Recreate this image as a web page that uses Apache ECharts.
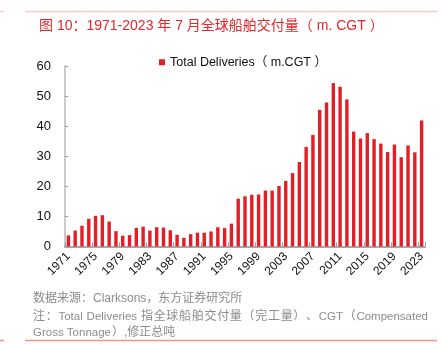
<!DOCTYPE html>
<html>
<head>
<meta charset="utf-8">
<script src="https://cdn.jsdelivr.net/npm/echarts@6/dist/echarts.min.js"></script>
<style>html,body{margin:0;padding:0;background:#fff;}#c{width:442px;height:344px;}</style>
</head>
<body>
<div id="c"></div>
<script>
const years = ['1971','1972','1973','1974','1975','1976','1977','1978','1979','1980',
  '1981','1982','1983','1984','1985','1986','1987','1988','1989','1990',
  '1991','1992','1993','1994','1995','1996','1997','1998','1999','2000',
  '2001','2002','2003','2004','2005','2006','2007','2008','2009','2010',
  '2011','2012','2013','2014','2015','2016','2017','2018','2019','2020',
  '2021','2022','2023'];
const deliveries = [3.7,5.3,6.9,9.2,10.2,10.4,8.3,5.1,3.6,3.8,
  6.2,6.6,5.3,6.4,6.3,5.4,3.9,2.9,4.1,4.6,
  4.6,5.0,6.4,6.1,7.6,15.9,16.7,17.2,17.3,18.6,
  18.6,20.1,21.8,24.4,28.1,33.1,37.1,45.4,47.9,54.3,
  53.1,48.9,38.2,35.9,37.7,35.7,34.2,31.4,33.9,29.7,
  33.6,31.3,41.9];
const yTicks = [0,10,20,30,40,50,60];
const titleText = '图 10：1971-2023 年 7 月全球船舶交付量（ m. CGT ）';
const seriesName = 'Total Deliveries（ m.CGT ）';
const sourceText = '数据来源：Clarksons，东方证券研究所';
const noteTokens = ['注','：','Total ','Deliveries ','指','全','球','船','舶','交','付','量','（','完','工','量','）','、','CGT','（','Compensated'];
const note2Latin = 'Gross Tonnage';
const note2Rest = '）,修正总吨';

const FF = '"Liberation Sans", Arial, "Noto Sans CJK SC", sans-serif';
const grey = '#8c8c8c';

const ctx = document.createElement('canvas').getContext('2d');
function isLatin(s){ return /^[\x00-\x7f]+$/.test(s); }
function fsFor(s){ return isLatin(s) ? 11.5 : 12; }
function measure(s){ ctx.font = fsFor(s) + 'px ' + FF; return ctx.measureText(s).width; }

const graphics = [
  {type:'line', shape:{x1:25,y1:11.5,x2:437,y2:11.5}, style:{stroke:'#f6c9c6',lineWidth:1.5}},
  {type:'line', shape:{x1:0,y1:11.5,x2:4,y2:11.5}, style:{stroke:'#f6c9c6',lineWidth:1.5}},
  {type:'line', shape:{x1:25,y1:340.5,x2:437,y2:340.5}, style:{stroke:'#ee9488',lineWidth:1.5}},
  {type:'line', shape:{x1:0,y1:340.5,x2:4,y2:340.5}, style:{stroke:'#ee9488',lineWidth:1.5}},
  {type:'text', x:33, y:298.5, style:{text:sourceText, fontSize:12, fontFamily:FF, fill:grey, verticalAlign:'middle'}}
];
// justified note line
(function(){
  const x0 = 33, x1 = 428;
  const widths = noteTokens.map(measure);
  const total = widths.reduce((a,b)=>a+b,0);
  const gap = Math.max(0, (x1 - x0 - total) / (noteTokens.length - 1));
  let x = x0;
  noteTokens.forEach((t,i) => {
    graphics.push({type:'text', x:x, y:316.5, style:{text:t, fontSize:fsFor(t), fontFamily:FF, fill:grey, verticalAlign:'middle'}});
    x += widths[i] + gap;
  });
  const w2 = measure(note2Latin);
  graphics.push({type:'text', x:33, y:333, style:{text:note2Latin, fontSize:11.5, fontFamily:FF, fill:grey, verticalAlign:'middle'}});
  graphics.push({type:'text', x:33 + w2 + 1, y:333, style:{text:note2Rest, fontSize:12, fontFamily:FF, fill:grey, verticalAlign:'middle'}});
})();

const chart = echarts.init(document.getElementById('c'), null, {renderer:'canvas'});
chart.setOption({
  animation:false,
  backgroundColor:'#fff',
  title:{text:titleText, left:34, top:14, textStyle:{color:'#e3262a', fontSize:14, fontWeight:'normal', fontFamily:FF}},
  legend:{data:[seriesName], left:154, top:51, icon:'rect', itemWidth:6, itemHeight:6, textStyle:{fontSize:12.5, color:'#111', fontFamily:FF}},
  grid:{left:65, right:17, top:66, bottom:97.5, containLabel:false},
  xAxis:{type:'category', data:years, boundaryGap:true,
    axisLine:{lineStyle:{color:'#a8a8a8', width:2}},
    axisTick:{show:true, inside:true, interval:3, length:4, lineStyle:{color:'#999'}},
    axisLabel:{interval:3, rotate:45, fontSize:12, color:'#111', fontFamily:FF, margin:8}},
  yAxis:{type:'value', min:0, max:60, interval:10,
    axisLine:{show:true, lineStyle:{color:'#bbb', width:1.5}},
    axisTick:{show:true, inside:true, length:3, lineStyle:{color:'#999'}},
    splitLine:{show:false},
    axisLabel:{fontSize:13, color:'#111', fontFamily:FF, margin:14, formatter:v => yTicks.includes(v) ? String(v) : ''}},
  series:[{name:seriesName, type:'bar', data:deliveries, barWidth:'50%', itemStyle:{color:'#e31e24'}}],
  graphic:graphics
});
</script>
</body>
</html>
